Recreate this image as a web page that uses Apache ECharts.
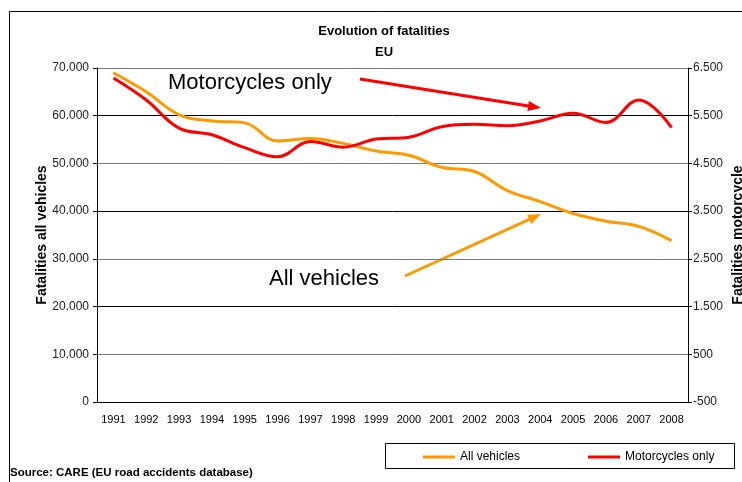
<!DOCTYPE html>
<html>
<head>
<meta charset="utf-8">
<script src="https://cdn.jsdelivr.net/npm/echarts@6/dist/echarts.min.js"></script>
<style>
  html, body { margin: 0; padding: 0; background: #fff; }
  #chart { width: 742px; height: 482px; }
</style>
</head>
<body>
<div id="chart"></div>
<script>
// data
var years = ['1991', '1992', '1993', '1994', '1995', '1996', '1997', '1998', '1999',
             '2000', '2001', '2002', '2003', '2004', '2005', '2006', '2007', '2008'];
var allVehicles = [69000, 65000, 60200, 58900, 58500, 54700, 55200, 54200, 52600,
                   51700, 49200, 48300, 44300, 42000, 39500, 37900, 36800, 33800];
var motorcycles = [6290, 5830, 5240, 5100, 4830, 4640, 4960, 4840, 5010,
                   5050, 5270, 5320, 5290, 5390, 5550, 5360, 5830, 5250];

var FONT = 'Liberation Sans, Arial, sans-serif';

// 70000 -> "70.000"
function fmt(v) {
    return String(v).replace(/\B(?=(\d{3})+(?!\d))/g, '.');
}

// simple arrow: shaft + head
function arrow(x1, y1, x2, y2, color) {
    var dx = x2 - x1, dy = y2 - y1;
    var len = Math.sqrt(dx * dx + dy * dy);
    var ux = dx / len, uy = dy / len;
    var bx = x2 - ux * 13, by = y2 - uy * 13;
    return [{
        type: 'line',
        shape: { x1: x1, y1: y1, x2: bx + ux * 2, y2: by + uy * 2 },
        style: { stroke: color, lineWidth: 3 }
    }, {
        type: 'polygon',
        shape: { points: [[x2, y2], [bx - uy * 5, by + ux * 5], [bx + uy * 5, by - ux * 5]] },
        style: { fill: color }
    }];
}

var chart = echarts.init(document.getElementById('chart'));

var graphics = [
    // outer frame
    { type: 'rect', shape: { x: 9.5, y: 11.5, width: 800, height: 500 },
      style: { fill: null, stroke: '#000', lineWidth: 1 }, z: -1 },
    // legend box
    { type: 'rect', shape: { x: 385.5, y: 443.5, width: 349, height: 25 },
      style: { fill: null, stroke: '#000', lineWidth: 1 } },
    { type: 'text', left: 168, top: 72,
      style: { text: 'Motorcycles only', font: '22px ' + FONT, fill: '#000' } },
    { type: 'text', left: 269, top: 268,
      style: { text: 'All vehicles', font: '22px ' + FONT, fill: '#000' } },
    { type: 'text', left: 10, top: 467,
      style: { text: 'Source: CARE (EU road accidents database)', font: 'bold 11.5px ' + FONT, fill: '#000' } }
];
graphics = graphics.concat(arrow(360, 79, 541, 108, '#ff0000'));
graphics = graphics.concat(arrow(405, 276, 541, 214, '#ff9900'));

var option = {
    backgroundColor: '#fff',
    animation: false,
    title: {
        text: 'Evolution of fatalities\nEU',
        left: 379,
        top: 16,
        textAlign: 'center',
        textStyle: { fontSize: 13, fontWeight: 'bold', fontFamily: FONT, color: '#000', lineHeight: 21 }
    },
    legend: {
        left: 418,
        top: 446,
        itemWidth: 32,
        itemHeight: 3,
        itemGap: 68,
        icon: 'rect',
        textStyle: { fontSize: 12, fontFamily: FONT, color: '#000' },
        data: ['All vehicles', 'Motorcycles only']
    },
    grid: { left: 97, right: 54, top: 68, bottom: 80, outerBoundsMode: 'none' },
    xAxis: {
        type: 'category',
        data: years,
        boundaryGap: true,
        axisLine: { lineStyle: { color: '#000', width: 1 } },
        axisTick: { length: 5, lineStyle: { color: '#000' } },
        axisLabel: { interval: 0, margin: 12, fontSize: 11, fontFamily: FONT, color: '#000' }
    },
    yAxis: [{
        type: 'value',
        min: 0,
        max: 70000,
        interval: 10000,
        name: 'Fatalities all vehicles',
        nameLocation: 'middle',
        nameRotate: 90,
        nameGap: 48,
        nameMoveOverlap: false,
        nameTextStyle: { fontSize: 14, fontWeight: 'bold', fontFamily: FONT, color: '#000' },
        axisLine: { show: true, lineStyle: { color: '#000' } },
        axisTick: { show: true, length: 4, lineStyle: { color: '#000' } },
        axisLabel: { margin: 8, fontSize: 12, fontFamily: FONT, color: '#222', formatter: fmt },
        splitLine: { show: true, lineStyle: { color: ['#000', '#777'], width: 1 } }
    }, {
        type: 'value',
        min: -500,
        max: 6500,
        interval: 1000,
        position: 'right',
        name: 'Fatalities motorcycle',
        nameLocation: 'middle',
        nameRotate: 90,
        nameGap: 43,
        nameMoveOverlap: false,
        nameTextStyle: { fontSize: 14, fontWeight: 'bold', fontFamily: FONT, color: '#000' },
        axisLine: { show: true, lineStyle: { color: '#000' } },
        axisTick: { show: true, length: 4, lineStyle: { color: '#000' } },
        axisLabel: { margin: 5, fontSize: 12, fontFamily: FONT, color: '#222', formatter: fmt },
        splitLine: { show: false }
    }],
    series: [{
        name: 'All vehicles',
        type: 'line',
        yAxisIndex: 0,
        data: allVehicles,
        smooth: 0.4,
        symbol: 'none',
        itemStyle: { color: '#ff9900' },
        lineStyle: { color: '#ff9900', width: 3 }
    }, {
        name: 'Motorcycles only',
        type: 'line',
        yAxisIndex: 1,
        data: motorcycles,
        smooth: 0.4,
        symbol: 'none',
        itemStyle: { color: '#ff0000' },
        lineStyle: { color: '#ff0000', width: 3 }
    }],
    graphic: graphics
};

chart.setOption(option);
</script>
</body>
</html>
